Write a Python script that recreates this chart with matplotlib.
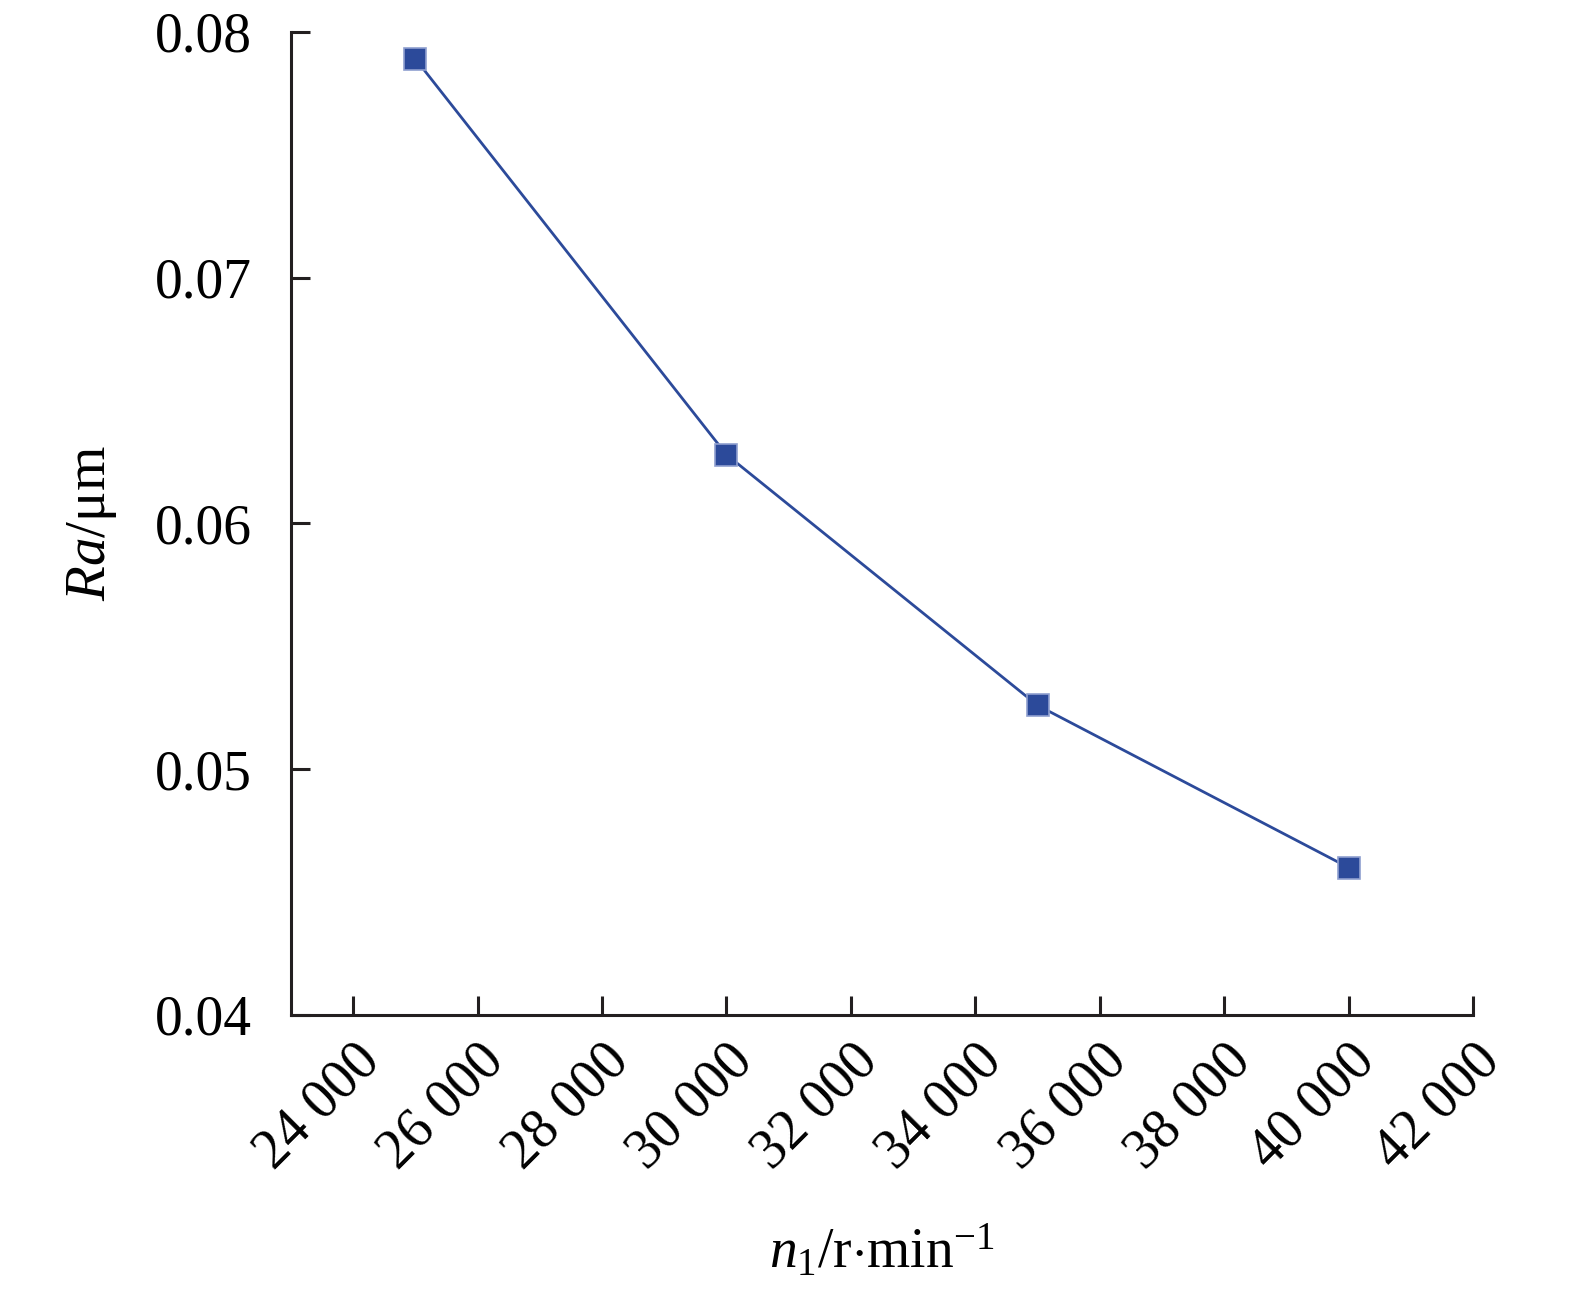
import matplotlib
matplotlib.use("Agg")
import matplotlib.pyplot as plt
from matplotlib.ticker import FuncFormatter

plt.rcParams['font.family'] = ['Liberation Serif', 'DejaVu Serif']
plt.rcParams['mathtext.fontset'] = 'custom'
plt.rcParams['mathtext.rm'] = 'Liberation Serif'
plt.rcParams['mathtext.it'] = 'Liberation Serif:italic'

# data
speed = [25000, 30000, 35000, 40000]
roughness = [0.0789, 0.0628, 0.0526, 0.0460]
x_ticks = [24000, 26000, 28000, 30000, 32000, 34000, 36000, 38000, 40000, 42000]
y_ticks = [0.04, 0.05, 0.06, 0.07, 0.08]

line_color = '#2C4A9A'

fig = plt.figure(figsize=(15.75, 12.89), dpi=100)
ax = fig.add_axes([0.1848, 0.2126, 0.7504, 0.7626])

ax.plot(speed, roughness, color=line_color, lw=2.0, marker='s', ms=16,
        markerfacecolor=line_color, markeredgecolor='#8F9FCF', markeredgewidth=1.2)

ax.set_xlim(23000, 42000)
ax.set_ylim(0.04, 0.08)
ax.set_xticks(x_ticks)
ax.set_yticks(y_ticks)
ax.xaxis.set_major_formatter(FuncFormatter(lambda v, p: f'{int(v):,}'.replace(',', ' ')))
ax.yaxis.set_major_formatter(FuncFormatter(lambda v, p: f'{v:.2f}'))

for s in ['top', 'right']:
    ax.spines[s].set_visible(False)
for s in ['left', 'bottom']:
    ax.spines[s].set_linewidth(2.2)
    ax.spines[s].set_color('#231F20')

ax.tick_params(axis='both', direction='in', length=14, width=2.2, color='#231F20',
               labelsize=40)
ax.tick_params(axis='y', pad=28)
ax.tick_params(axis='x', pad=14)
plt.setp(ax.get_xticklabels(), rotation=45, ha='right', rotation_mode='anchor')

ax.set_xlabel(r'$n_1$/r$\cdot$min$^{-1}$', fontsize=40, labelpad=32)
ax.set_ylabel(r'$Ra$/μm', fontsize=41, labelpad=26)

fig.savefig('out.png', dpi=100)
